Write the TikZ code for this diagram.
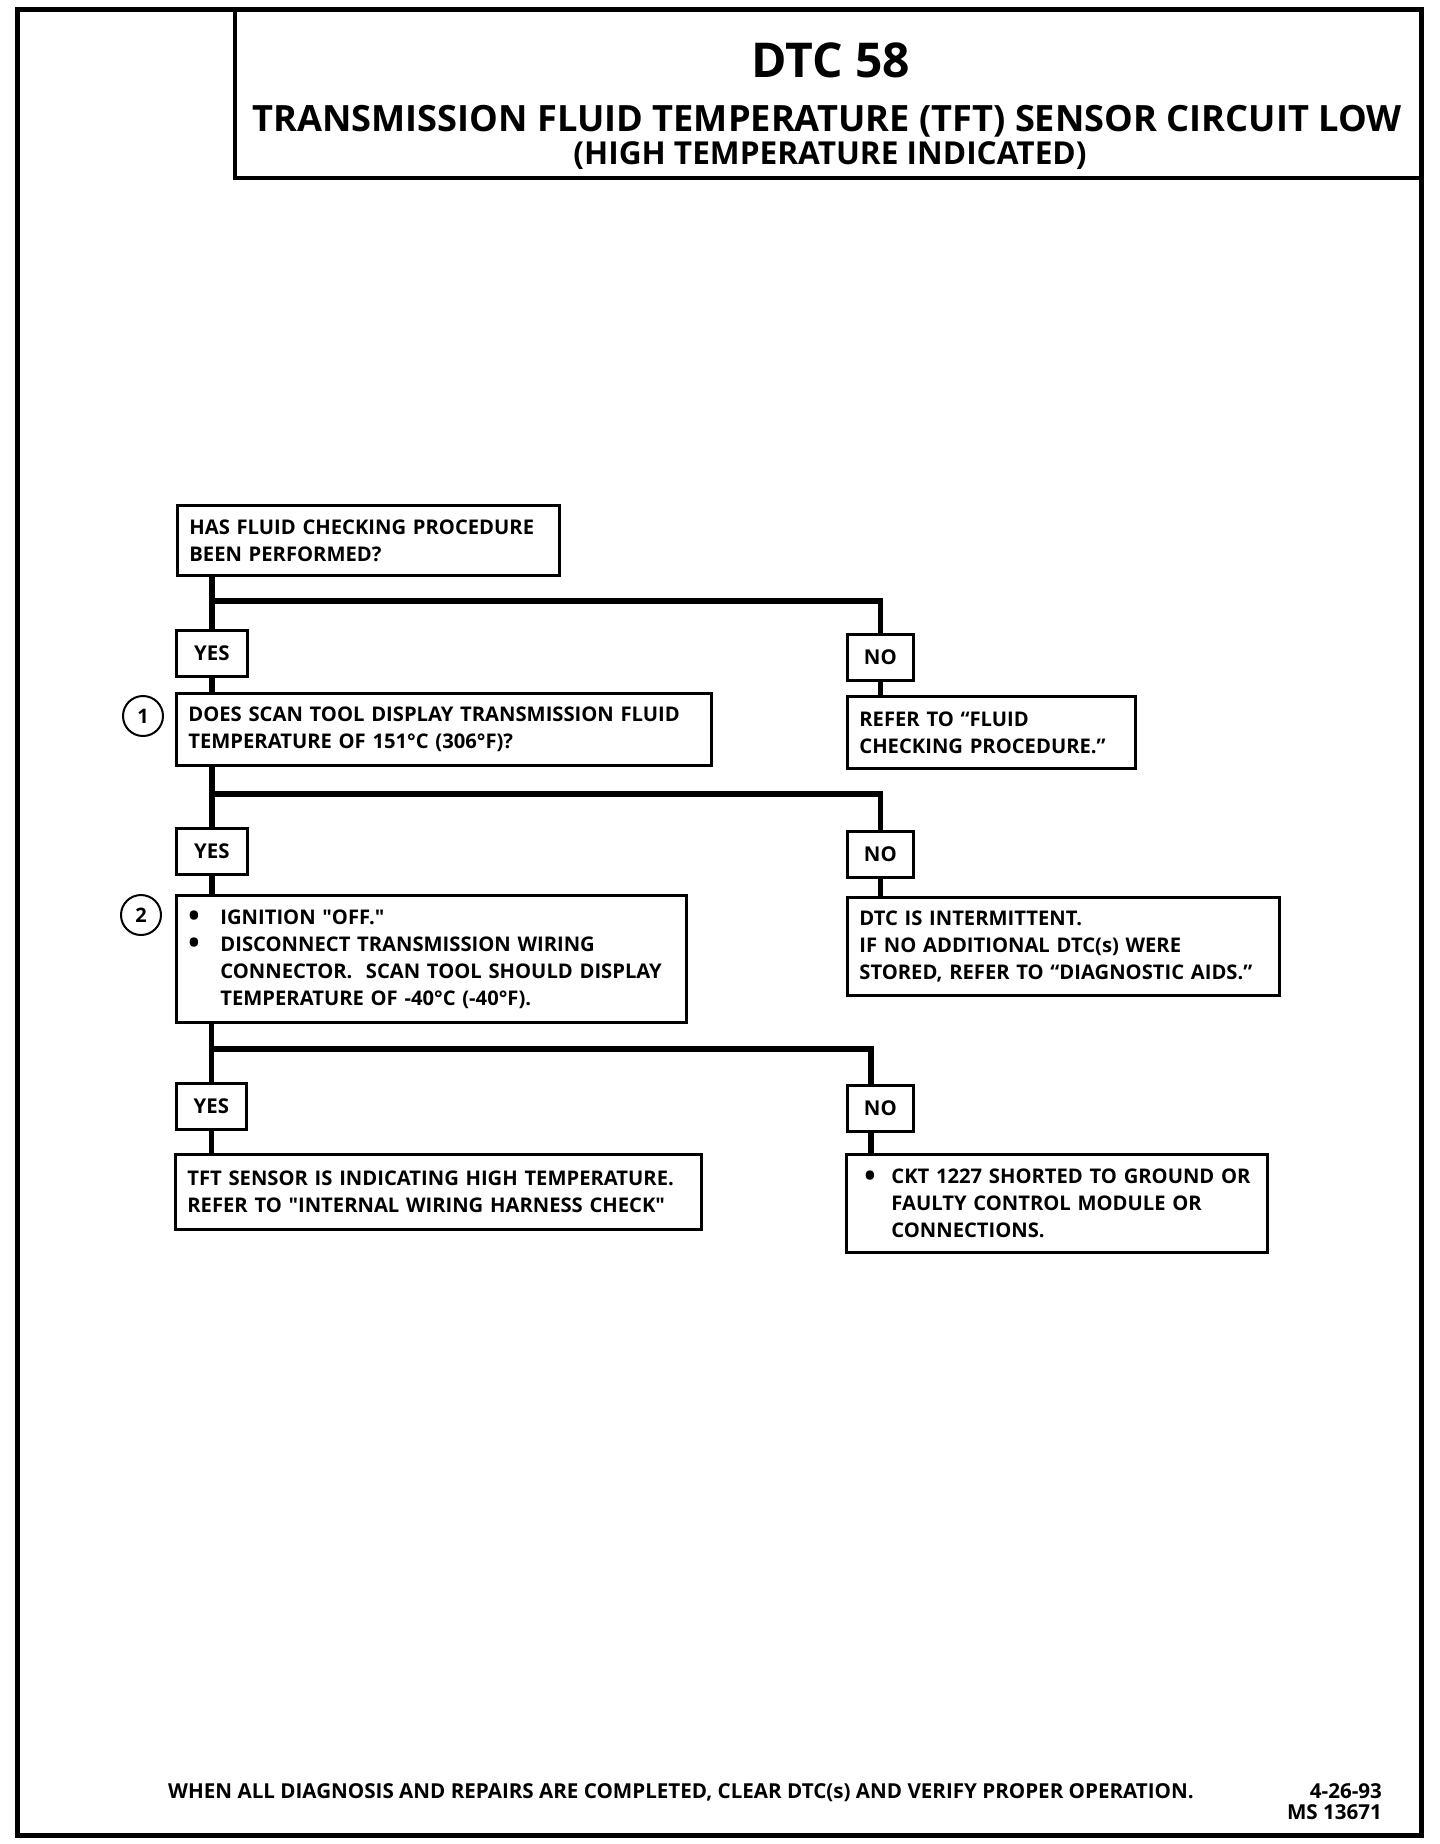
\documentclass[tikz,border=0pt]{standalone}
\usepackage{fontspec}
\setmainfont{Open Sans}
\usetikzlibrary{positioning}

\newcommand{\dotmark}{\raisebox{-1.3pt}{\fontsize{15}{13}\selectfont\textbullet}}

\begin{document}
\begin{tikzpicture}[x=0.5pt, y=-0.5pt, anchor=north west,
    box/.style={draw, line width=1.4pt, inner xsep=6pt, inner ysep=0pt, align=left,
      font=\bfseries\fontsize{10.1}{13.5}\selectfont},
    answer/.style={draw, line width=1.4pt, minimum height=23pt, inner sep=0pt,
      font=\bfseries\fontsize{10.2}{12}\selectfont},
    num/.style={draw, circle, line width=1pt, minimum size=20pt, inner sep=0pt,
      anchor=center, font=\bfseries\fontsize{10}{12}\selectfont},
    flow/.style={line width=2.8pt}]
    \useasboundingbox (0,0) rectangle (1440,1844);

    % page frame and title block
    \draw[line width=2.5pt] (17,9) rectangle (1421,1835);
    \draw[line width=1.6pt] (235,9) rectangle (1421,178);
    \node[anchor=center, font=\bfseries\fontsize{24}{28}\selectfont] (title) at (831,60) {DTC 58};
    \node[anchor=center, font=\bfseries\fontsize{18.1}{22}\selectfont] (title2) at (827,121)
      {TRANSMISSION FLUID TEMPERATURE (TFT) SENSOR CIRCUIT LOW};
    \node[anchor=center, font=\bfseries\fontsize{15.8}{18}\selectfont] (title3) at (830,156)
      {(HIGH TEMPERATURE INDICATED)};

    % first question
    \node[box, text width=179pt, minimum height=35pt] (has_fluid) at (176,504)
      {HAS FLUID CHECKING PROCEDURE\\BEEN PERFORMED?};
    \node[answer, minimum width=35.5pt] (yes_a) at (175,629) {YES};
    \node[answer, minimum width=33pt] (no_a) at (846,633) {NO};
    \node[num] (num1) at (143,716) {1};
    \node[box, text width=255.5pt, minimum height=36pt] (scan_q) at (175,692)
      {DOES SCAN TOOL DISPLAY TRANSMISSION FLUID\\TEMPERATURE OF 151°C (306°F)?};
    \node[box, text width=132pt, minimum height=36pt] (refer_fluid) at (846,695)
      {REFER TO “FLUID\\CHECKING PROCEDURE.”};

    % second question
    \node[answer, minimum width=35.5pt] (yes_b) at (175,827) {YES};
    \node[answer, minimum width=33pt] (no_b) at (846,830) {NO};
    \node[num] (num2) at (141,915) {2};
    \node[box, text width=243pt, minimum height=63.5pt] (ign_off) at (175,894) {%
      \makebox[16pt][l]{\dotmark}IGNITION \textquotedbl OFF.\textquotedbl\\
      \makebox[16pt][l]{\dotmark}DISCONNECT TRANSMISSION WIRING\\
      \hspace*{16pt}CONNECTOR.\ \ SCAN TOOL SHOULD DISPLAY\\
      \hspace*{16pt}TEMPERATURE OF -40°C (-40°F).};
    \node[box, text width=204pt, minimum height=49pt] (intermittent) at (846,896)
      {DTC IS INTERMITTENT.\\IF NO ADDITIONAL DTC(s) WERE\\STORED, REFER TO “DIAGNOSTIC AIDS.”};

    % results
    \node[answer, minimum width=35pt] (yes_c) at (175,1082) {YES};
    \node[answer, minimum width=33pt] (no_c) at (846,1084) {NO};
    \node[box, text width=251pt, minimum height=37.5pt] (tft_high) at (174,1153)
      {TFT SENSOR IS INDICATING HIGH TEMPERATURE.\\REFER TO \textquotedbl INTERNAL WIRING HARNESS CHECK\textquotedbl};
    \node[box, inner xsep=7pt, text width=196.5pt, minimum height=49pt] (ckt_short) at (845,1153) {%
      \makebox[15.5pt][l]{\hspace{2pt}\dotmark}CKT 1227 SHORTED TO GROUND OR\\
      \hspace*{15.5pt}FAULTY CONTROL MODULE OR\\
      \hspace*{15.5pt}CONNECTIONS.};

    % connectors
    \coordinate (fork_a) at (881,601);
    \coordinate (fork_b) at (881,794);
    \coordinate (fork_c) at (871,1049);
    \draw[flow] (has_fluid.south -| yes_a) -- (yes_a.north);
    \draw[flow] (yes_a |- fork_a) -| (no_a.north);
    \draw[flow] (yes_a.south) -- (yes_a.south |- scan_q.north);
    \draw[flow] (no_a.south) -- (no_a.south |- refer_fluid.north);

    \draw[flow] (scan_q.south -| yes_b) -- (yes_b.north);
    \draw[flow] (yes_b |- fork_b) -| (no_b.north);
    \draw[flow] (yes_b.south) -- (yes_b.south |- ign_off.north);
    \draw[flow] (no_b.south) -- (no_b.south |- intermittent.north);

    \draw[flow] (ign_off.south -| yes_c) -- (yes_c.north);
    \draw[flow] (yes_c |- fork_c) -- (fork_c) -- (fork_c |- no_c.north);
    \draw[flow] (yes_c.south) -- (yes_c.south |- tft_high.north);
    \draw[flow] (fork_c |- no_c.south) -- (fork_c |- ckt_short.north);

    % footer
    \node[anchor=center, font=\bfseries\fontsize{10.3}{12}\selectfont] (footer) at (681,1793)
      {WHEN ALL DIAGNOSIS AND REPAIRS ARE COMPLETED, CLEAR DTC(s) AND VERIFY PROPER OPERATION.};
    \node[anchor=east, align=right, font=\bfseries\fontsize{10.3}{10.5}\selectfont] (doc_id) at (1389,1802)
      {4-26-93\\MS 13671};

\end{tikzpicture}
\end{document}
